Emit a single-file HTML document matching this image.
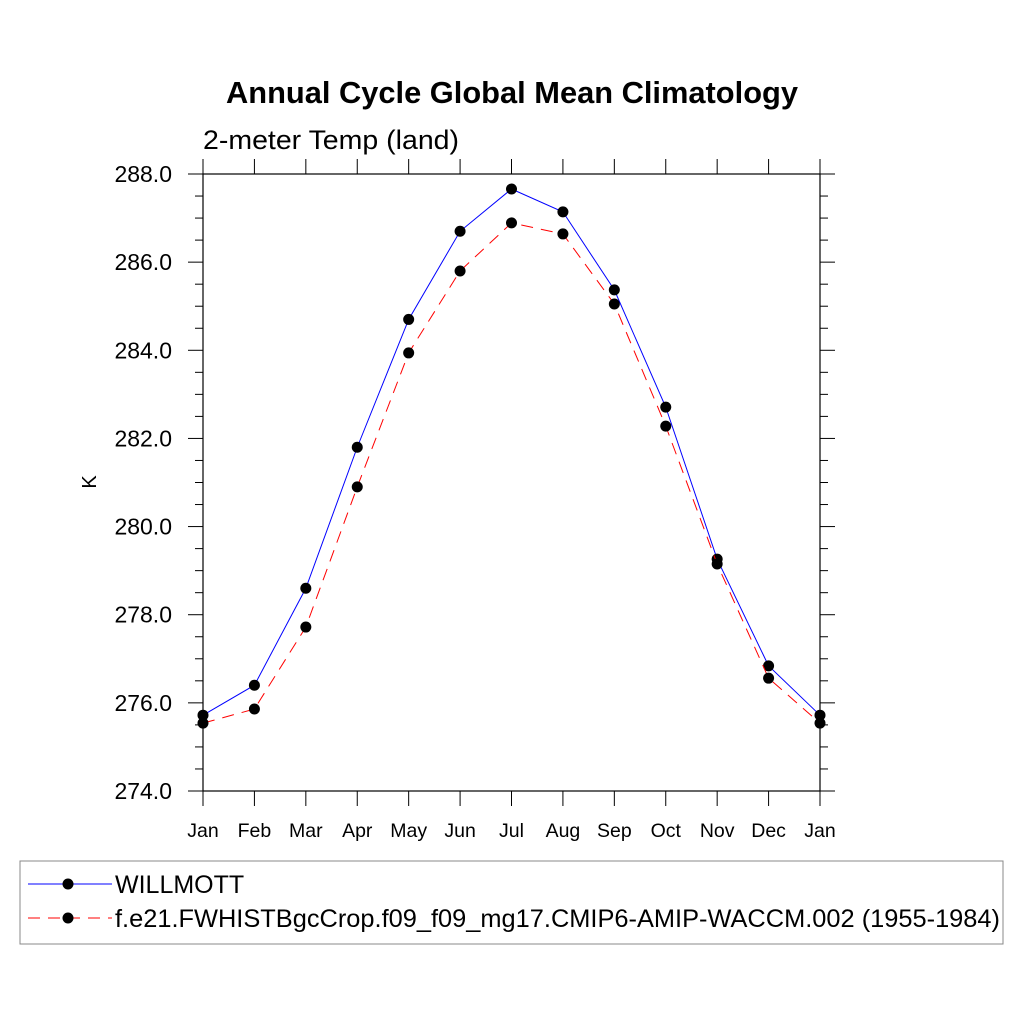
<!DOCTYPE html>
<html><head><meta charset="utf-8"><style>body{margin:0;background:#fff}svg{display:block}text{font-family:"Liberation Sans",sans-serif;fill:#000}</style></head>
<body>
<svg id="c" width="1024" height="1024">
<text x="512" y="103" font-size="31" font-weight="bold" text-anchor="middle" textLength="572" lengthAdjust="spacingAndGlyphs">Annual Cycle Global Mean Climatology</text>
<text x="203" y="149" font-size="27" textLength="256" lengthAdjust="spacingAndGlyphs">2-meter Temp (land)</text>
<text transform="translate(96,482) rotate(-90)" font-size="20" text-anchor="middle">K</text>
<g id="ax"></g><g id="series"></g>
<rect x="20" y="861" width="983" height="83" fill="none" stroke="#888" stroke-width="1"/>
<g>
<line x1="28" y1="884" x2="112" y2="884" stroke="#00f" stroke-width="1"/><circle cx="68" cy="884" r="5.5" fill="#000"/>
<text x="115" y="893" font-size="25">WILLMOTT</text></g>
<g>
<line x1="28" y1="918" x2="112" y2="918" stroke="#f00" stroke-width="1" stroke-dasharray="12,8"/><circle cx="68" cy="918" r="5.5" fill="#000"/>
<text x="115" y="927" font-size="25" textLength="885" lengthAdjust="spacingAndGlyphs">f.e21.FWHISTBgcCrop.f09_f09_mg17.CMIP6-AMIP-WACCM.002 (1955-1984)</text></g>
</svg>
<script>
const months=["Jan","Feb","Mar","Apr","May","Jun","Jul","Aug","Sep","Oct","Nov","Dec","Jan"];
const willmott=[275.72,276.4,278.6,281.8,284.7,286.7,287.66,287.14,285.37,282.71,279.26,276.84,275.72];
const model=[275.54,275.86,277.72,280.9,283.94,285.8,286.89,286.64,285.05,282.28,279.15,276.56,275.54];
const yTicks=[274,276,278,280,282,284,286,288];
const L=203,R=820,T=174,B=791,ymin=274,ymax=288;
const xs=i=>L+(R-L)*i/(months.length-1);
const ys=v=>B-(v-ymin)/(ymax-ymin)*(B-T);
const NS="http://www.w3.org/2000/svg";
function mk(p,t,a){const e=document.createElementNS(NS,t);for(const k in a)e.setAttribute(k,a[k]);p.appendChild(e);return e;}
const ax=document.getElementById('ax');
const frame=mk(ax,'rect',{x:L,y:T,width:R-L,height:B-T,fill:'none',stroke:'#000','stroke-width':1.2});


for(let v=ymin;v<=ymax+1e-9;v+=0.5){const y=ys(v);const maj=Math.abs(v%2)<1e-9;const len=maj?15:8;
mk(ax,'line',{x1:L-len,y1:y,x2:L,y2:y,stroke:'#000','stroke-width':1});
mk(ax,'line',{x1:R,y1:y,x2:R+len,y2:y,stroke:'#000','stroke-width':1});}
yTicks.forEach(v=>{const t=mk(ax,'text',{x:172,y:ys(v)+8,'font-size':23,'text-anchor':'end'});t.textContent=v.toFixed(1);

});
months.forEach((m,i)=>{const x=xs(i);
mk(ax,'line',{x1:x,y1:B,x2:x,y2:B+15,stroke:'#000','stroke-width':1});
mk(ax,'line',{x1:x,y1:T,x2:x,y2:T-15,stroke:'#000','stroke-width':1});
const t=mk(ax,'text',{x:x,y:837,'font-size':19.5,'text-anchor':'middle'});t.textContent=m;

});
const sg=document.getElementById('series');
function draw(data,color,dash,name){const g=mk(sg,'g',{});


mk(g,'polyline',{points:data.map((v,i)=>xs(i)+','+ys(v)).join(' '),fill:'none',stroke:color,'stroke-width':1,'stroke-dasharray':dash});
data.forEach((v,i)=>{const c=mk(g,'circle',{cx:xs(i),cy:ys(v),r:5.5,fill:'#000'});

});}
draw(willmott,'#00f','none','series-willmott');
draw(model,'#f00','12,8','series-model');
</script>
</body></html>
